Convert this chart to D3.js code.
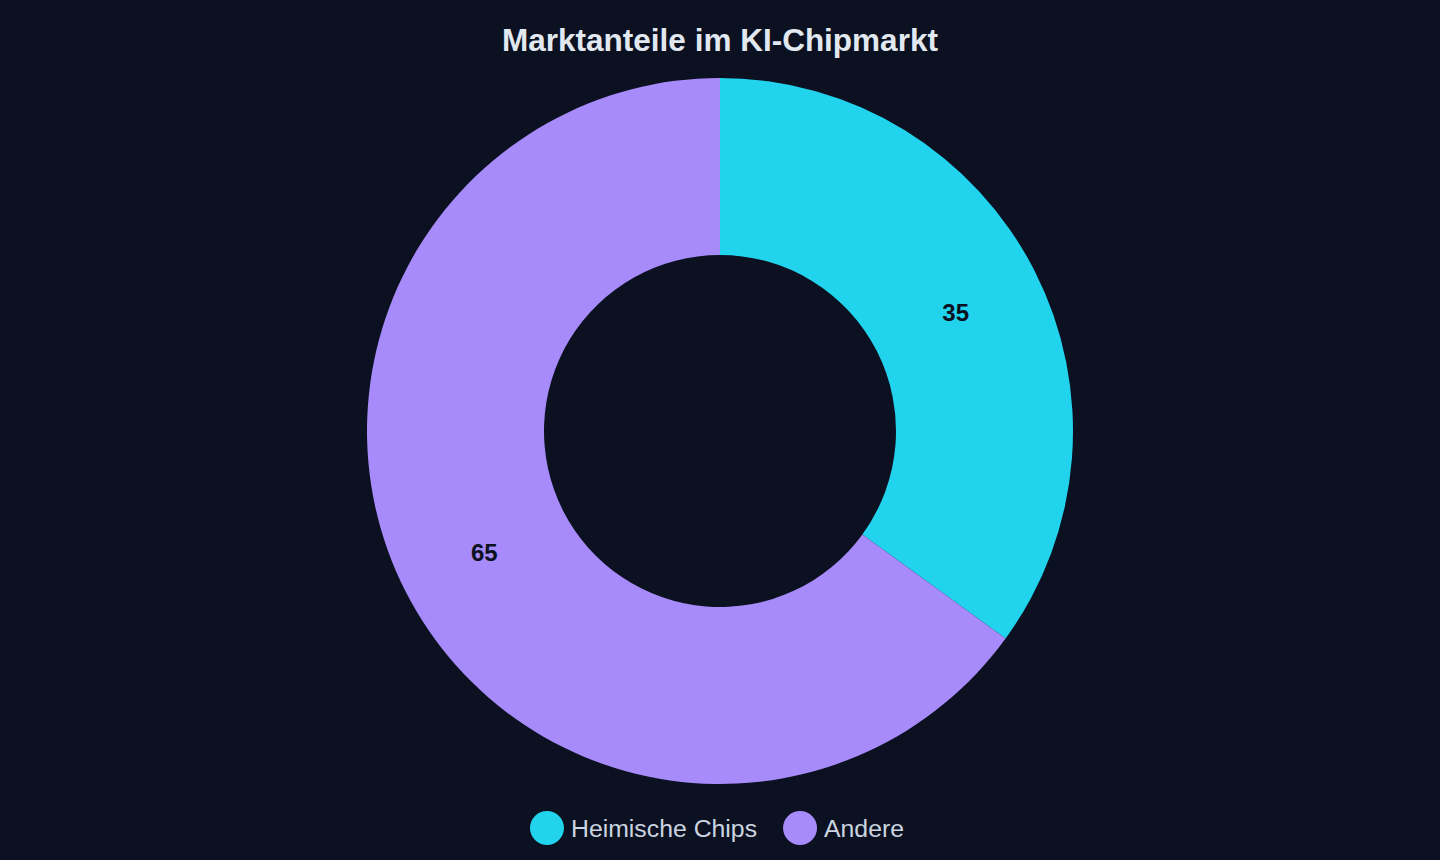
<!DOCTYPE html>
<html>
<head>
<meta charset="utf-8">
<script src="https://cdn.jsdelivr.net/npm/d3@7/dist/d3.min.js"></script>
<style>
html,body{margin:0;padding:0;background:#0b1120;}
svg{display:block;}
</style>
</head>
<body>
<svg id="chart" width="1440" height="860"></svg>
<script>
const title = "Marktanteile im KI-Chipmarkt";
const categories = ["Heimische Chips", "Andere"];
const values = [35, 65];
const colors = ["#22d3ee", "#a78bfa"];

const W = 1440, H = 860;
const cx = 720, cy = 431, outerR = 353, innerR = 176;

const svg = d3.select("#chart");
svg.append("rect").attr("width", W).attr("height", H).attr("fill", "#0b1120");

svg.append("text")
  .attr("x", 720).attr("y", 51)
  .attr("text-anchor", "middle")
  .attr("font-family", "Liberation Sans, Arial, sans-serif")
  .attr("font-weight", "bold")
  .attr("font-size", 31.5)
  .attr("fill", "#e2e8f0")
  .text(title);

const data = categories.map((c, i) => ({cat: c, value: values[i], color: colors[i]}));
const pie = d3.pie().value(d => d.value).sort(null);
const arc = d3.arc().innerRadius(innerR).outerRadius(outerR);
const labelArc = d3.arc().innerRadius((innerR + outerR) / 2).outerRadius((innerR + outerR) / 2);

const g = svg.append("g").attr("transform", `translate(${cx},${cy})`);
const arcs = pie(data);
g.selectAll("path").data(arcs).enter().append("path")
  .attr("d", arc)
  .attr("fill", d => d.data.color);

g.selectAll("text.lbl").data(arcs).enter().append("text")
  .attr("class", "lbl")
  .attr("transform", d => `translate(${labelArc.centroid(d)})`)
  .attr("text-anchor", "middle")
  .attr("dy", "0.42em")
  .attr("font-family", "Liberation Sans, Arial, sans-serif")
  .attr("font-weight", "bold")
  .attr("font-size", 24)
  .attr("fill", "#0b1120")
  .text(d => d.data.value);

// legend
const legendFont = 24.8;
const r = 17, textOff = 24, gap = 26;
const legend = svg.append("g");
const items = legend.selectAll("g").data(data).enter().append("g");
items.append("circle").attr("r", r).attr("cy", 0).attr("fill", d => d.color);
items.append("text")
  .attr("x", textOff).attr("dy", "0.35em")
  .attr("font-family", "Liberation Sans, Arial, sans-serif")
  .attr("font-size", legendFont)
  .attr("fill", "#cbd5e1")
  .text(d => d.cat);
let x = 0, lastEnd = 0;
const positions = [];
items.each(function(d) {
  const tw = d3.select(this).select("text").node().getComputedTextLength();
  positions.push(x);
  lastEnd = x + textOff + tw;
  x = lastEnd + gap + r;
});
const totalW = r + lastEnd;
const startX = 717 - totalW / 2 + r;
items.attr("transform", (d, i) => `translate(${startX + positions[i]},828)`);
</script>
</body>
</html>
